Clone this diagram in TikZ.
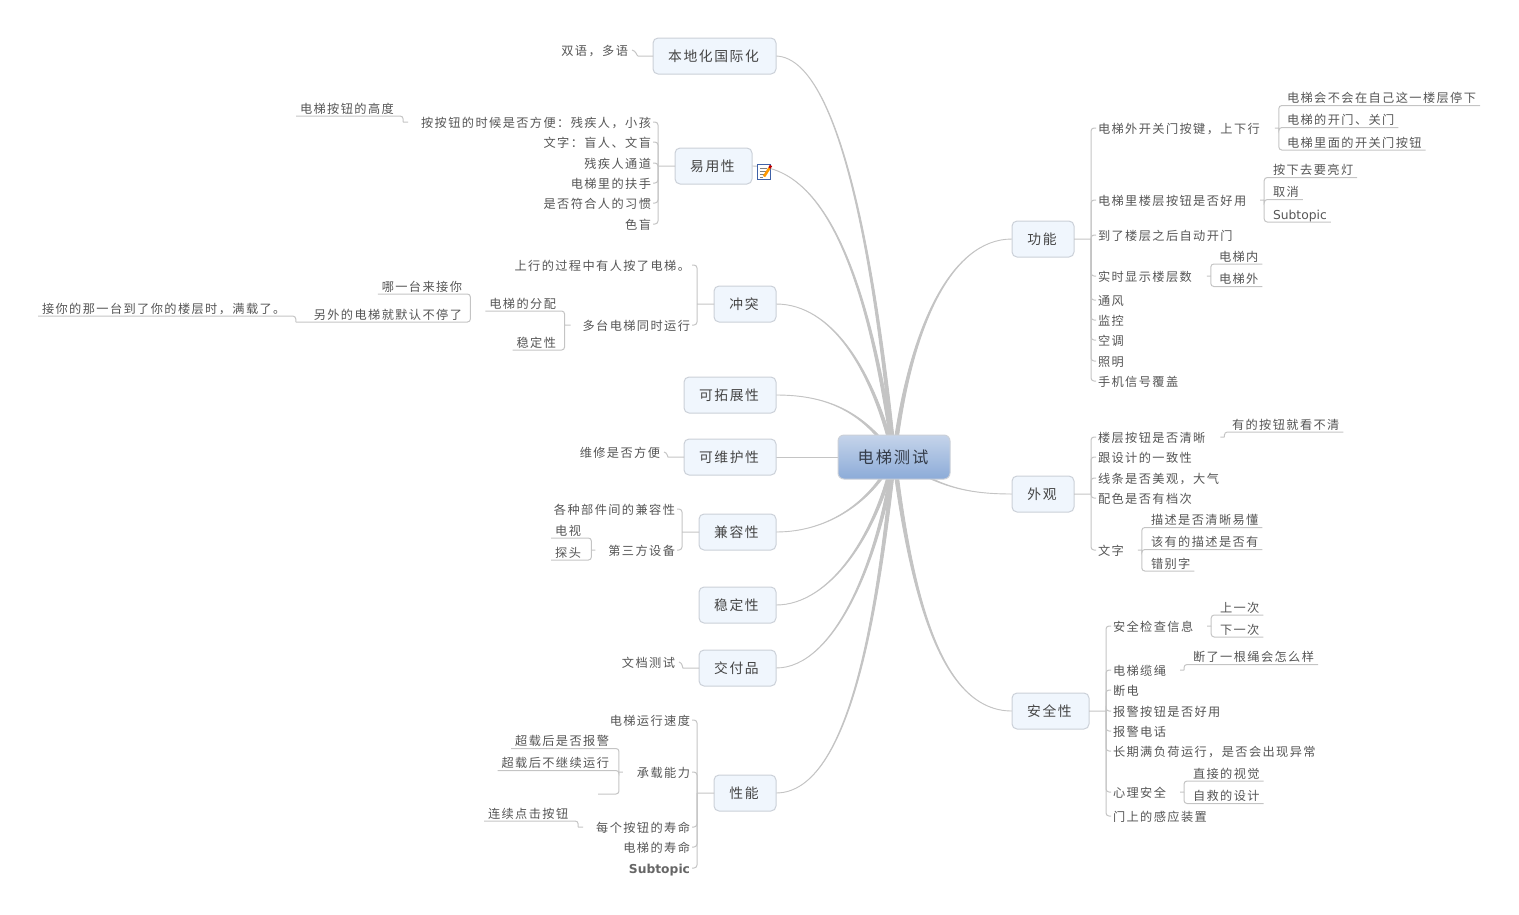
\documentclass[tikz,border=0pt]{standalone}
\usepackage{fontspec}
\setmainfont{Noto Sans CJK SC}[LetterSpace=11.5]
\newfontfamily\dv{DejaVu Sans}
\usetikzlibrary{backgrounds}
\definecolor{txtc}{HTML}{555555}
\definecolor{topc}{HTML}{454545}
\definecolor{rootc}{HTML}{343C4A}
\definecolor{linec}{HTML}{C4C4C4}
\definecolor{boxb}{HTML}{CBD0D8}
\definecolor{boxf}{HTML}{F0F6FD}
\definecolor{rootT}{HTML}{C5D4EA}
\definecolor{rootM}{HTML}{99B5DC}
\definecolor{rootB}{HTML}{8CABD8}
\definecolor{iconb}{HTML}{3F62A8}
\tikzset{
  lab/.style={inner xsep=0pt,inner ysep=2pt,outer sep=0pt,text height=11pt,text depth=1pt,text=txtc,font=\fontsize{12.2}{14}\selectfont},
  subt/.style={lab,font=\dv\fontsize{12.3}{14}\selectfont},
  subtb/.style={lab,text=txtc!90,font=\dv\bfseries\fontsize{12.3}{14}\selectfont},
  topic/.style={draw=boxb,fill=boxf,rounded corners=5pt,line width=1pt,minimum height=36pt,inner sep=0pt,outer sep=0pt,text=topc,font=\fontsize{13.8}{16}\selectfont,execute at end node={\hspace*{2pt}}},
  rootbox/.style={draw=boxb,rounded corners=6pt,line width=1pt,minimum height=44pt,minimum width=112pt,inner sep=0pt,outer sep=0pt,top color=rootT,middle color=rootM,bottom color=rootB,text=rootc,font=\fontsize{16.3}{18}\selectfont,execute at end node={\hspace*{2pt}}},
  branch/.style={draw=linec,line width=1pt,rounded corners=3pt},
  trunkst/.style={draw=linec,fill=linec,line width=0.9pt,line join=round}
}
\newcommand\LT[4]{\node[lab,anchor=east] (#1) at (#2,#3) {#4};}
\newcommand\RT[4]{\node[lab,anchor=west] (#1) at (#2,#3) {#4};}
% first child of a parent draws the stub, its siblings only the bracket part
\newcommand\toL[3]{\draw[branch] (#1.west) -- ++(-#2,0) ++(0,0) |- ([xshift=2]#3.east);}
\newcommand\toR[3]{\draw[branch] (#1.east) -- ++(#2,0) ++(0,0) |- ([xshift=-2]#3.west);}
\newcommand\tbL[3]{\draw[branch] ([xshift=-#2]#1.west) |- ([xshift=2]#3.east);}
\newcommand\tbR[3]{\draw[branch] ([xshift=#2]#1.east) |- ([xshift=-2]#3.west);}
\newcommand\ulL[4]{\draw[branch] ([xshift=-#2]#1.west) -- ++(-#3,0) ++(0,0) |- ([xshift=-4]#4.south west);}
\newcommand\ulR[4]{\draw[branch] ([xshift=#2]#1.east) -- ++(#3,0) ++(0,0) |- ([xshift=4]#4.south east);}
\newcommand\sbL[3]{\draw[branch] ([xshift=-#2]#1.west) |- ([xshift=-4]#3.south west);}
\newcommand\sbR[3]{\draw[branch] ([xshift=#2]#1.east) |- ([xshift=4]#3.south east);}
\newcommand\trunk[3]{\draw[trunkst] (#1) .. controls (#2) and (#3) .. ([xshift=-2]root.center) -- ([xshift=2]root.center) .. controls ([xshift=2]#3) and (#2) .. (#1) -- cycle;}
\begin{document}
\begin{tikzpicture}[x=1pt,y=-1pt]
\useasboundingbox (0,0) rectangle (1519,914);
% root and main topics
\node[rootbox] (root) at (894,457) {电梯测试};
\node[topic,minimum width=123pt] (loc) at (714.5,56) {本地化国际化};
\node[topic,minimum width=77pt] (usab) at (713.5,166) {易用性};
\node[topic,minimum width=62pt] (conf) at (745,304) {冲突};
\node[topic,minimum width=92pt] (ext) at (730,395) {可拓展性};
\node[topic,minimum width=92pt] (maint) at (730,457) {可维护性};
\node[topic,minimum width=77pt] (comp) at (737.5,532) {兼容性};
\node[topic,minimum width=77pt] (stab) at (737.5,605) {稳定性};
\node[topic,minimum width=77pt] (deliv) at (737.5,668) {交付品};
\node[topic,minimum width=62pt] (perf) at (745,793) {性能};
\node[topic,minimum width=62pt] (func) at (1043,239) {功能};
\node[topic,minimum width=62pt] (look) at (1043,494) {外观};
\node[topic,minimum width=77pt] (safe) at (1050.5,711) {安全性};
% note icon
\draw[draw=iconb,fill=white,line width=1pt] (757.5,164.5) rectangle (770,179.5);
\draw[gray,line width=0.7pt] (760,168) -- (767,168) (760,171) -- (766,171) (760,174) -- (764,174) (760,177) -- (763,177);
\draw[orange!80!yellow,line width=2.6pt] (764,176.5) -- (769.5,168);
\draw[red!75!black,line width=2.6pt] (769.5,168) -- (771,165.5);
% left leaves
\LT{l1}{628}{50}{双语，多语}
\LT{u1}{651}{122}{按按钮的时候是否方便：残疾人，小孩}
\LT{u2}{651}{142}{文字：盲人、文盲}
\LT{u3}{651}{163}{残疾人通道}
\LT{u4}{651}{183}{电梯里的扶手}
\LT{u5}{651}{203}{是否符合人的习惯}
\LT{u6}{651}{224}{色盲}
\RT{u1a}{300}{108}{电梯按钮的高度}
\LT{c1}{690}{265}{上行的过程中有人按了电梯。}
\LT{c2}{690}{325}{多台电梯同时运行}
\LT{c2a}{556}{303}{电梯的分配}
\LT{c2b}{556}{342}{稳定性}
\LT{c3a}{462}{286}{哪一台来接你}
\LT{c3b}{462}{314}{另外的电梯就默认不停了}
\RT{c4}{42}{308}{接你的那一台到了你的楼层时，满载了。}
\LT{m1}{660}{452}{维修是否方便}
\LT{k1}{675}{509}{各种部件间的兼容性}
\LT{k2}{675}{550}{第三方设备}
\LT{k2a}{581}{530}{电视}
\LT{k2b}{581}{552}{探头}
\LT{d1}{675}{662}{文档测试}
\LT{p1}{690}{720}{电梯运行速度}
\LT{p2}{690}{772}{承载能力}
\LT{p3}{690}{827}{每个按钮的寿命}
\LT{p4}{690}{847}{电梯的寿命}
\node[subtb,anchor=east] (p5) at (690,868) {Subtopic};
\LT{p2a}{609}{740.5}{超载后是否报警}
\LT{p2b}{609}{762.5}{超载后不继续运行}
\coordinate (p2c) at (598,794);
\RT{p3a}{488}{813}{连续点击按钮}
% function
\RT{f1}{1098}{128}{电梯外开关门按键，上下行}
\RT{f2}{1098}{200}{电梯里楼层按钮是否好用}
\RT{f3}{1098}{235}{到了楼层之后自动开门}
\RT{f4}{1098}{276}{实时显示楼层数}
\RT{f5}{1098}{300}{通风}
\RT{f6}{1098}{320}{监控}
\RT{f7}{1098}{340}{空调}
\RT{f8}{1098}{361}{照明}
\RT{f9}{1098}{381}{手机信号覆盖}
\RT{f1a}{1287}{97.5}{电梯会不会在自己这一楼层停下}
\RT{f1b}{1287}{119.5}{电梯的开门、关门}
\RT{f1c}{1287}{142}{电梯里面的开关门按钮}
\RT{f2a}{1273}{169.5}{按下去要亮灯}
\RT{f2b}{1273}{191.5}{取消}
\node[subt,anchor=west] (f2c) at (1273,214) {Subtopic};
\RT{f4a}{1219}{256}{电梯内}
\RT{f4b}{1219}{278.5}{电梯外}
% look
\RT{w1}{1098}{437}{楼层按钮是否清晰}
\RT{w2}{1098}{457}{跟设计的一致性}
\RT{w3}{1098}{478}{线条是否美观，大气}
\RT{w4}{1098}{498}{配色是否有档次}
\RT{w5}{1098}{550}{文字}
\RT{w1a}{1232}{424}{有的按钮就看不清}
\RT{w5a}{1151}{519.5}{描述是否清晰易懂}
\RT{w5b}{1151}{541.5}{该有的描述是否有}
\RT{w5c}{1151}{563}{错别字}
% safety
\RT{s1}{1113}{626}{安全检查信息}
\RT{s2}{1113}{670}{电梯缆绳}
\RT{s3}{1113}{690}{断电}
\RT{s4}{1113}{711}{报警按钮是否好用}
\RT{s5}{1113}{731}{报警电话}
\RT{s6}{1113}{751}{长期满负荷运行，是否会出现异常}
\RT{s7}{1113}{792}{心理安全}
\RT{s8}{1113}{816}{门上的感应装置}
\RT{s1a}{1220}{607}{上一次}
\RT{s1b}{1220}{629}{下一次}
\RT{s2a}{1193}{656.5}{断了一根绳会怎么样}
\RT{s7a}{1193}{773}{直接的视觉}
\RT{s7b}{1193}{795.5}{自救的设计}
\begin{scope}[on background layer]
% trunks
\trunk{loc.east}{845,58}{878,300}
\trunk{usab.east}{835,166}{872,310}
\trunk{conf.east}{832,304}{872,370}
\trunk{ext.east}{825,395}{862,410}
\draw[trunkst] (maint.east) -- (root.west);
\trunk{comp.east}{830,532}{872,500}
\trunk{stab.east}{830,605}{875,535}
\trunk{deliv.east}{835,668}{878,560}
\trunk{perf.east}{852,793}{878,600}
\trunk{func.west}{950,239}{908,330}
\trunk{look.west}{965,494}{935,486}
\trunk{safe.west}{945,711}{912,610}
\end{scope}
% left branches
\draw[branch] (loc.west) -- ++(-12,0) to[out=180,in=-10] ([xshift=4]l1.east);
\toL{usab}{17}{u1}\tbL{usab}{17}{u2}\tbL{usab}{17}{u3}\tbL{usab}{17}{u4}\tbL{usab}{17}{u5}\tbL{usab}{17}{u6}
\ulL{u1}{13}{5}{u1a}
\toL{conf}{17}{c1}\tbL{conf}{17}{c2}
\ulL{c2}{12}{6}{c2a}
\sbL{c2}{18}{c2b}
\draw[branch] ([xshift=-19]c2a.south west) |- ([xshift=-4]c3a.south west);
\draw[branch] ([xshift=-19]c2a.south west) |- ([xshift=-18]c3b.south west);
\draw[branch] ([xshift=-18]c3b.south west) |- ([xshift=-4]c4.south west);
\draw[branch] (maint.west) -- ++(-13,0) to[out=180,in=-10] ([xshift=4]m1.east);
\toL{comp}{17}{k1}\tbL{comp}{17}{k2}
\ulL{k2}{13}{4}{k2a}\sbL{k2}{17}{k2b}
\draw[branch] (deliv.west) -- ++(-13,0) to[out=180,in=-10] ([xshift=4]d1.east);
\toL{perf}{17}{p1}\tbL{perf}{17}{p2}\tbL{perf}{17}{p3}\tbL{perf}{17}{p4}\tbL{perf}{17}{p5}
\ulL{p2}{14}{4}{p2a}\sbL{p2}{18}{p2b}
\draw[branch] ([xshift=-18]p2.west) |- (p2c);
\ulL{p3}{13}{5}{p3a}
% right branches
\toR{func}{17}{f1}\tbR{func}{17}{f2}\tbR{func}{17}{f3}\tbR{func}{17}{f4}\tbR{func}{17}{f5}\tbR{func}{17}{f6}\tbR{func}{17}{f7}\tbR{func}{17}{f8}\tbR{func}{17}{f9}
\ulR{f1}{15}{4}{f1a}\sbR{f1}{19}{f1b}\sbR{f1}{19}{f1c}
\ulR{f2}{14}{4}{f2a}\sbR{f2}{18}{f2b}\sbR{f2}{18}{f2c}
\ulR{f4}{15}{4}{f4a}\sbR{f4}{19}{f4b}
\toR{look}{17}{w1}\tbR{look}{17}{w2}\tbR{look}{17}{w3}\tbR{look}{17}{w4}\tbR{look}{17}{w5}
\ulR{w1}{15}{4}{w1a}
\ulR{w5}{14}{4}{w5a}\sbR{w5}{18}{w5b}\sbR{w5}{18}{w5c}
\toR{safe}{17}{s1}\tbR{safe}{17}{s2}\tbR{safe}{17}{s3}\tbR{safe}{17}{s4}\tbR{safe}{17}{s5}\tbR{safe}{17}{s6}\tbR{safe}{17}{s7}\tbR{safe}{17}{s8}
\ulR{s1}{14}{4}{s1a}\sbR{s1}{18}{s1b}
\ulR{s2}{14}{4}{s2a}
\ulR{s7}{14}{4}{s7a}\sbR{s7}{18}{s7b}
\end{tikzpicture}
\end{document}
